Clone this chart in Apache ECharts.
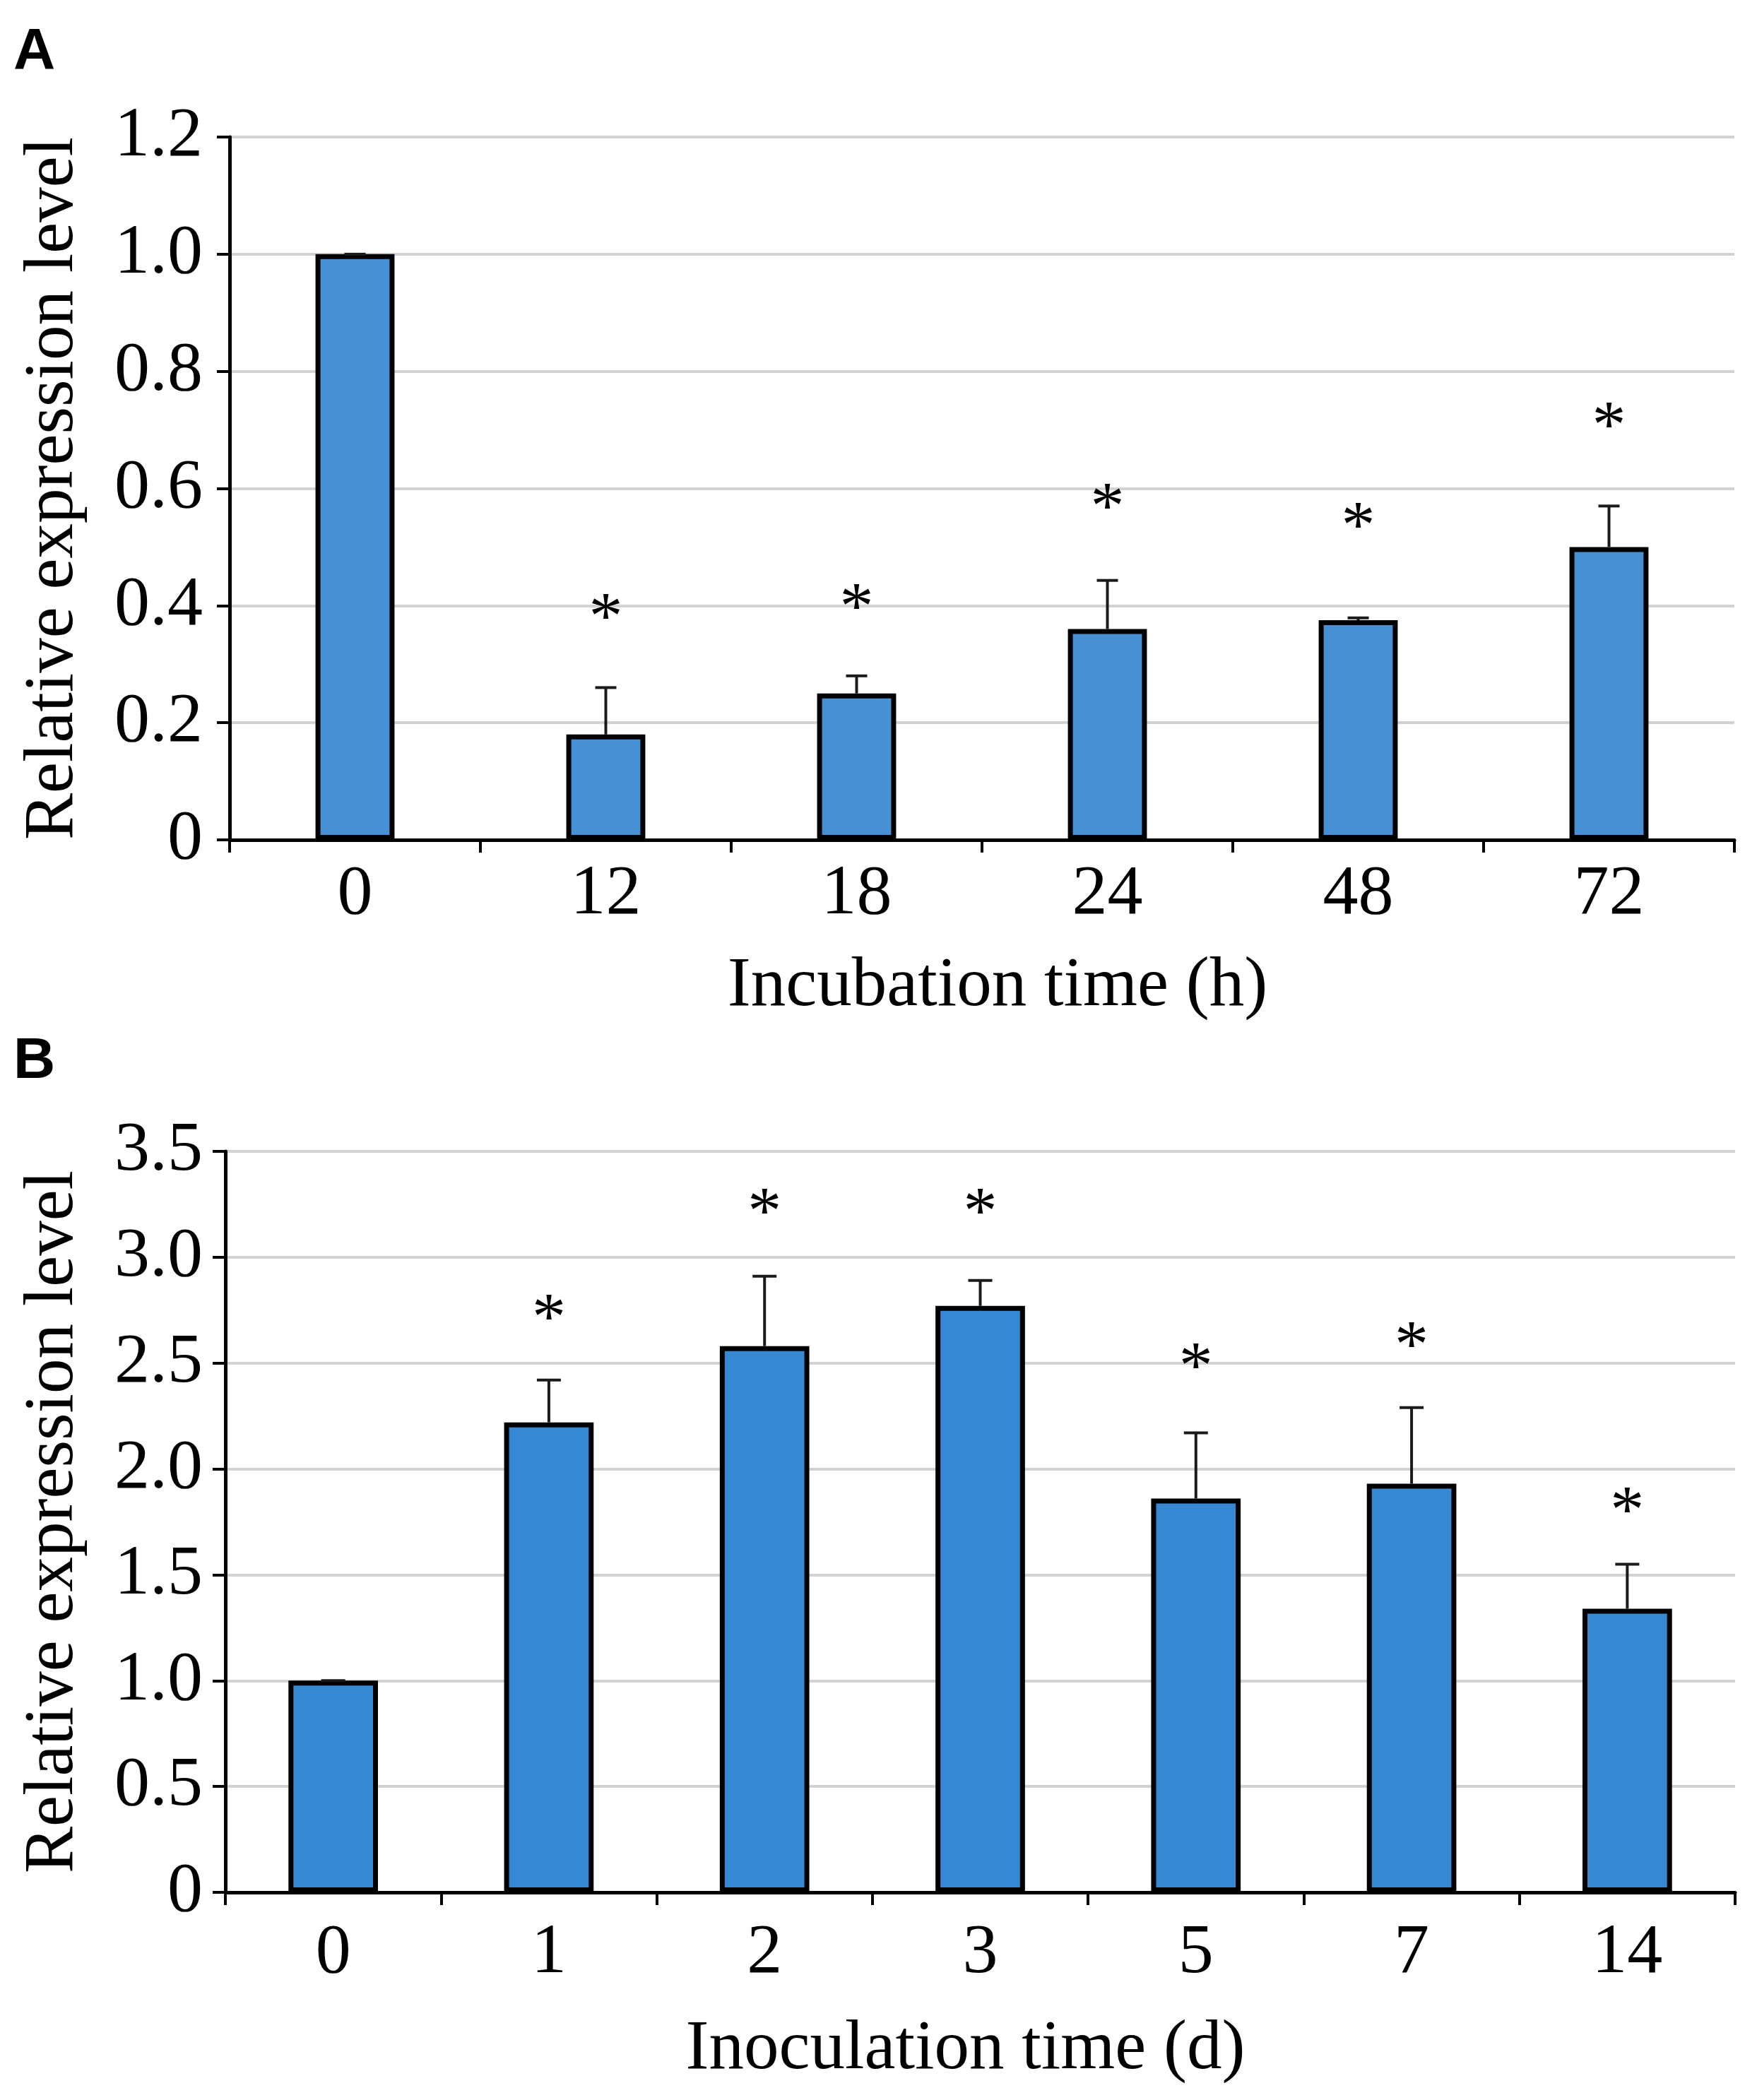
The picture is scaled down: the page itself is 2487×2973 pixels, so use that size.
<!DOCTYPE html>
<html>
<head>
<meta charset="utf-8">
<script src="https://cdn.jsdelivr.net/npm/echarts@6/dist/echarts.min.js"></script>
<style>
html, body { margin: 0; padding: 0; background: #fff; }
#chart { width: 2487px; height: 2973px; }
</style>
</head>
<body>
<div id="chart"></div>
<script>
// panel A: incubation time (h)
var catsA = ['0', '12', '18', '24', '48', '72'];
var valuesA = [1.0, 0.18, 0.25, 0.36, 0.375, 0.50];
var errA = [0, 0.08, 0.03, 0.083, 0.004, 0.07];
var starA = [null, 0.39, 0.407, 0.578, 0.545, 0.717];

// panel B: inoculation time (d)
var catsB = ['0', '1', '2', '3', '5', '7', '14'];
var valuesB = [1.0, 2.22, 2.58, 2.77, 1.86, 1.93, 1.34];
var errB = [0, 0.20, 0.33, 0.12, 0.31, 0.36, 0.21];
var starB = [null, 2.74, 3.24, 3.24, 2.51, 2.61, 1.83];

var serif = 'Liberation Serif';

var dom = document.getElementById("chart");
var myChart = echarts.init(dom);
var option;

function yLabel(v) {
    return v === 0 ? '0' : v.toFixed(1);
}

function errData(vals, errs) {
    return vals.map(function (v, i) { return [i, v, errs[i]]; });
}

function starData(stars) {
    var out = [];
    stars.forEach(function (s, i) {
        if (s !== null) out.push([i, s]);
    });
    return out;
}

// error bar: stem from bar top plus a cap
function errRender(capHalf) {
    return function (params, api) {
        var top = api.coord([api.value(0), api.value(1) + api.value(2)]);
        var base = api.coord([api.value(0), api.value(1)]);
        var style = {stroke: '#1a1a1a', lineWidth: 4};
        return {
            type: 'group',
            children: [
                {type: 'line', shape: {x1: base[0], y1: base[1], x2: top[0], y2: top[1]}, style: style},
                {type: 'line', shape: {x1: top[0] - capHalf, y1: top[1], x2: top[0] + capHalf, y2: top[1]}, style: style}
            ]
        };
    };
}

function starRender(params, api) {
    var p = api.coord([api.value(0), api.value(1)]);
    return {
        type: 'text',
        x: p[0],
        y: p[1] + 13,
        style: {
            text: '*',
            fontSize: 96,
            fontFamily: serif,
            fill: '#000',
            align: 'center',
            verticalAlign: 'middle'
        }
    };
}

function xAxisCfg(idx, cats, name, margin, gap, shift) {
    return {
        type: 'category',
        gridIndex: idx,
        data: cats,
        name: name,
        nameLocation: 'middle',
        nameGap: gap,
        nameTextStyle: {
            fontFamily: serif, fontSize: 99, color: '#000',
            padding: shift > 0 ? [0, 0, 0, shift * 2] : [0, -shift * 2, 0, 0]
        },
        axisLine: {lineStyle: {color: '#000', width: 5}},
        axisTick: {show: true, length: 18, lineStyle: {color: '#000', width: 4}},
        axisLabel: {fontFamily: serif, fontSize: 100, color: '#000', margin: margin},
        splitLine: {show: false}
    };
}

function yAxisCfg(idx, max, interval, margin, gap) {
    return {
        type: 'value',
        gridIndex: idx,
        min: 0,
        max: max,
        interval: interval,
        name: 'Relative expression level',
        nameLocation: 'middle',
        nameRotate: 90,
        nameGap: gap,
        nameTextStyle: {fontFamily: serif, fontSize: 99, color: '#000'},
        axisLine: {show: true, lineStyle: {color: '#000', width: 5}},
        axisTick: {show: true, length: 18, lineStyle: {color: '#000', width: 4}},
        axisLabel: {fontFamily: serif, fontSize: 100, color: '#000', margin: margin, formatter: yLabel},
        splitLine: {show: true, lineStyle: {color: '#d2d2d2', width: 4}}
    };
}

option = {
    backgroundColor: '#fff',
    animation: false,
    title: [
        {text: 'A', left: 14, top: 28, textStyle: {fontFamily: 'Liberation Sans', fontWeight: 'bold', fontSize: 82, color: '#000'}},
        {text: 'B', left: 14, top: 1457, textStyle: {fontFamily: 'Liberation Sans', fontWeight: 'bold', fontSize: 82, color: '#000'}}
    ],
    grid: [
        {left: 325, right: 32, top: 194, height: 995},
        {left: 319, right: 31, top: 1630, height: 1049}
    ],
    xAxis: [
        xAxisCfg(0, catsA, 'Incubation time (h)', 28, 158, 22),
        xAxisCfg(1, catsB, 'Inoculation time (d)', 37, 173, -21)
    ],
    yAxis: [
        yAxisCfg(0, 1.2, 0.2, 38, 200),
        yAxisCfg(1, 3.5, 0.5, 32, 194)
    ],
    series: [
        {
            type: 'bar',
            xAxisIndex: 0,
            yAxisIndex: 0,
            data: valuesA,
            barWidth: '31.5%',
            itemStyle: {color: '#4790d3', borderColor: '#000', borderWidth: 7}
        },
        {
            type: 'custom',
            xAxisIndex: 0,
            yAxisIndex: 0,
            renderItem: errRender(15),
            encode: {x: 0, y: 1},
            data: errData(valuesA, errA),
            z: 3
        },
        {
            type: 'custom',
            xAxisIndex: 0,
            yAxisIndex: 0,
            renderItem: starRender,
            encode: {x: 0, y: 1},
            data: starData(starA),
            z: 4
        },
        {
            type: 'bar',
            xAxisIndex: 1,
            yAxisIndex: 1,
            data: valuesB,
            barWidth: '41.5%',
            itemStyle: {color: '#3588d1', borderColor: '#000', borderWidth: 7}
        },
        {
            type: 'custom',
            xAxisIndex: 1,
            yAxisIndex: 1,
            renderItem: errRender(17),
            encode: {x: 0, y: 1},
            data: errData(valuesB, errB),
            z: 3
        },
        {
            type: 'custom',
            xAxisIndex: 1,
            yAxisIndex: 1,
            renderItem: starRender,
            encode: {x: 0, y: 1},
            data: starData(starB),
            z: 4
        }
    ]
};

if (option && typeof option === 'object') {
    myChart.setOption(option);
}
</script>
</body>
</html>
